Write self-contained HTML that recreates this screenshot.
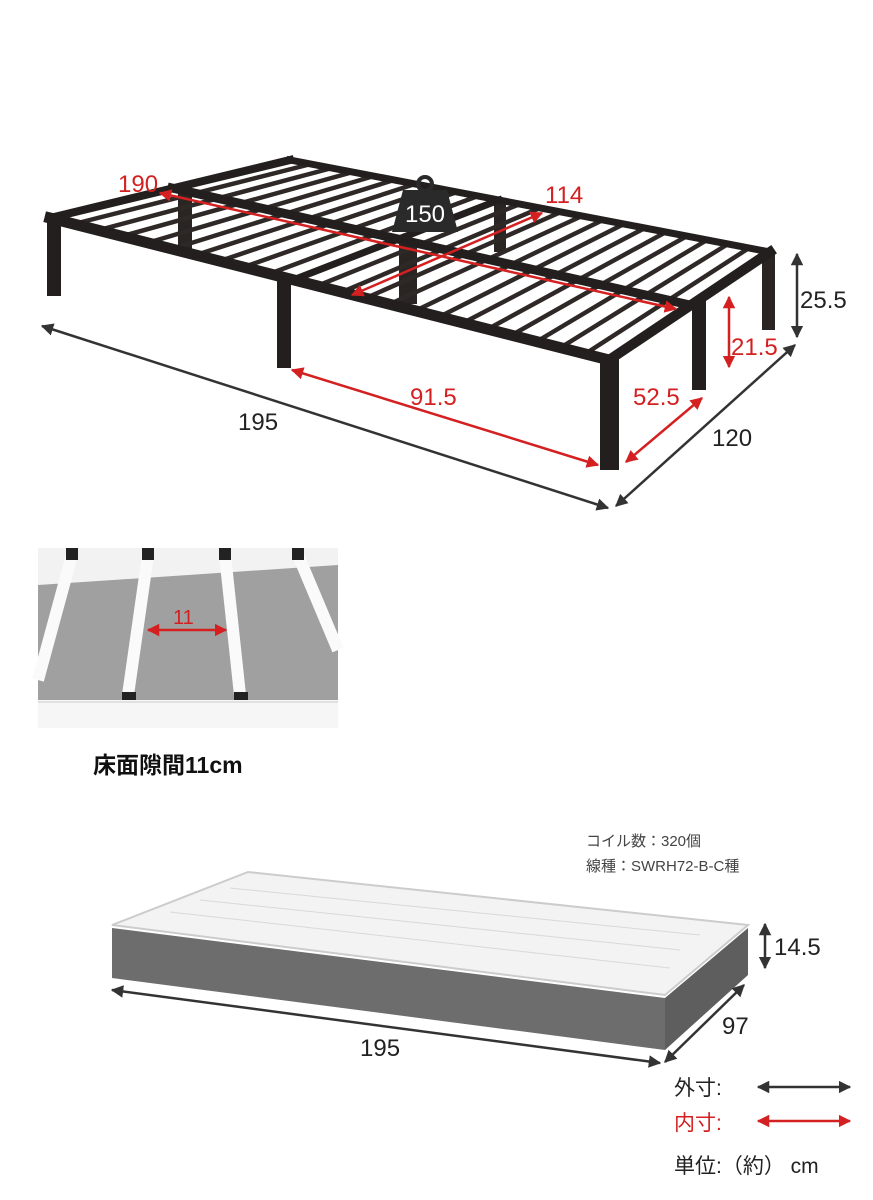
<!DOCTYPE html>
<html><head><meta charset="utf-8"><style>
html,body{margin:0;padding:0;background:#fff}
svg{display:block}
text{font-family:"Liberation Sans","Noto Sans CJK JP",sans-serif}
</style></head><body>
<svg width="873" height="1200" viewBox="0 0 873 1200" xmlns="http://www.w3.org/2000/svg">
<defs>
<marker id="ak" viewBox="0 0 10 10" refX="9" refY="5" markerWidth="5" markerHeight="5" orient="auto-start-reverse"><path d="M0,0L10,5L0,10z" fill="#333"/></marker>
<marker id="ar" viewBox="0 0 10 10" refX="9" refY="5" markerWidth="5" markerHeight="5" orient="auto-start-reverse"><path d="M0,0L10,5L0,10z" fill="#d42020"/></marker>
</defs>
<!-- inner legs -->
<g fill="#2a2523">
<rect x="178" y="188" width="14" height="66"/>
<rect x="399" y="240" width="18" height="64"/>
<rect x="494" y="202" width="12" height="50"/>
<rect x="762" y="252" width="13" height="78"/>
</g>
<!-- slats -->
<g stroke="#2e2927" stroke-width="4.5">
<line x1="74" y1="224" x2="311" y2="164"/>
<line x1="99" y1="230" x2="332" y2="168"/>
<line x1="123" y1="236" x2="353" y2="172"/>
<line x1="147" y1="243" x2="374" y2="176"/>
<line x1="172" y1="249" x2="394" y2="180"/>
<line x1="196" y1="255" x2="415" y2="184"/>
<line x1="220" y1="261" x2="436" y2="188"/>
<line x1="244" y1="267" x2="457" y2="192"/>
<line x1="269" y1="274" x2="478" y2="196"/>
<line x1="317" y1="286" x2="520" y2="204"/>
<line x1="342" y1="292" x2="540" y2="208"/>
<line x1="366" y1="298" x2="561" y2="212"/>
<line x1="390" y1="304" x2="582" y2="216"/>
<line x1="415" y1="311" x2="603" y2="220"/>
<line x1="439" y1="317" x2="624" y2="224"/>
<line x1="463" y1="323" x2="645" y2="228"/>
<line x1="488" y1="329" x2="666" y2="232"/>
<line x1="512" y1="335" x2="687" y2="236"/>
<line x1="536" y1="342" x2="707" y2="240"/>
<line x1="560" y1="348" x2="728" y2="244"/>
<line x1="585" y1="354" x2="749" y2="248"/>
</g>
<!-- rails -->
<g stroke="#231f1e" stroke-linecap="square">
<line x1="50" y1="218" x2="290" y2="160" stroke-width="8"/>
<line x1="290" y1="160" x2="770" y2="252" stroke-width="7"/>
<line x1="172" y1="188" x2="690" y2="305" stroke-width="9"/>
<line x1="293" y1="280" x2="499" y2="200" stroke-width="7"/>
<line x1="609" y1="360" x2="770" y2="252" stroke-width="10"/>
<line x1="50" y1="218" x2="609" y2="360" stroke-width="11"/>
</g>
<g fill="#231f1e">
<rect x="47" y="216" width="14" height="80"/>
<rect x="277" y="280" width="14" height="88"/>
<rect x="600" y="358" width="19" height="112"/>
<rect x="692" y="300" width="14" height="90"/>
</g>
<!-- weight -->
<circle cx="425" cy="184" r="7" fill="none" stroke="#2a2a2a" stroke-width="4"/>
<path d="M403,190 L447,190 L458,232 L392,232 Z" fill="#2a2a2a"/>
<text x="425" y="222" font-size="24" fill="#fff" text-anchor="middle">150</text>
<!-- red dims -->
<g stroke="#d42020" stroke-width="2.5" fill="none">
<line x1="160" y1="193" x2="676" y2="309" marker-start="url(#ar)" marker-end="url(#ar)"/>
<line x1="352" y1="295" x2="542" y2="213" marker-start="url(#ar)" marker-end="url(#ar)"/>
<line x1="292" y1="370" x2="598" y2="465" marker-start="url(#ar)" marker-end="url(#ar)"/>
<line x1="626" y1="462" x2="702" y2="398" marker-start="url(#ar)" marker-end="url(#ar)"/>
<line x1="729" y1="297" x2="729" y2="367" marker-start="url(#ar)" marker-end="url(#ar)"/>
</g>
<g fill="#d42020" font-size="24">
<text x="118" y="192">190</text><text x="545" y="203">114</text>
<text x="410" y="405">91.5</text><text x="633" y="405">52.5</text><text x="731" y="355">21.5</text>
</g>
<!-- black dims -->
<g stroke="#333" stroke-width="2.5">
<line x1="42" y1="326" x2="608" y2="508" marker-start="url(#ak)" marker-end="url(#ak)"/>
<line x1="616" y1="506" x2="795" y2="345" marker-start="url(#ak)" marker-end="url(#ak)"/>
<line x1="797" y1="254" x2="797" y2="337" marker-start="url(#ak)" marker-end="url(#ak)"/>
</g>
<g fill="#222" font-size="24">
<text x="238" y="430">195</text><text x="712" y="446">120</text><text x="800" y="308">25.5</text>
</g>
<!-- inset -->
<rect x="38" y="548" width="300" height="180" fill="#f2f2f2"/>
<path d="M38,585 L338,565 L338,700 L38,700 Z" fill="#a0a0a0"/>
<rect x="38" y="700" width="300" height="28" fill="#f6f6f6"/>
<line x1="38" y1="702" x2="338" y2="702" stroke="#ccc"/>
<g stroke="#fafafa" stroke-width="12">
<line x1="72" y1="555" x2="38" y2="680"/>
<line x1="148" y1="555" x2="128" y2="695"/>
<line x1="225" y1="555" x2="240" y2="695"/>
<line x1="298" y1="555" x2="338" y2="650"/>
</g>
<g fill="#222">
<rect x="66" y="548" width="12" height="12"/><rect x="142" y="548" width="12" height="12"/>
<rect x="219" y="548" width="12" height="12"/><rect x="292" y="548" width="12" height="12"/>
<rect x="122" y="692" width="14" height="8"/><rect x="234" y="692" width="14" height="8"/>
</g>
<line x1="148" y1="630" x2="226" y2="630" stroke="#d42020" stroke-width="2.5" marker-start="url(#ar)" marker-end="url(#ar)"/>
<text x="173" y="624" font-size="20" fill="#d42020">11</text>
<text x="93" y="773" font-size="23" font-weight="bold" fill="#111">床面隙間11cm</text>
<!-- mattress -->
<text x="586" y="846" font-size="15" fill="#444">コイル数：320個</text>
<text x="586" y="871" font-size="15" fill="#444">線種：SWRH72-B-C種</text>
<path d="M112,928 L665,998 L665,1050 L112,978 Z" fill="#6d6d6d"/>
<path d="M665,998 L748,928 L748,975 L665,1050 Z" fill="#5e5e5e"/>
<path d="M112,925 L248,872 L748,925 L665,995 Z" fill="#f3f3f3" stroke="#ccc" stroke-width="2"/>
<g stroke="#d9d9d9" stroke-width="1" fill="none">
<path d="M200,900 L680,950"/><path d="M170,912 L670,968"/><path d="M230,888 L700,935"/>
</g>
<g stroke="#333" stroke-width="2.5">
<line x1="112" y1="990" x2="660" y2="1063" marker-start="url(#ak)" marker-end="url(#ak)"/>
<line x1="665" y1="1062" x2="744" y2="985" marker-start="url(#ak)" marker-end="url(#ak)"/>
<line x1="765" y1="924" x2="765" y2="968" marker-start="url(#ak)" marker-end="url(#ak)"/>
</g>
<g fill="#222" font-size="24">
<text x="360" y="1056">195</text><text x="722" y="1034">97</text><text x="774" y="955">14.5</text>
</g>
<!-- legend -->
<text x="674" y="1095" font-size="21" fill="#222">外寸:</text>
<line x1="758" y1="1087" x2="850" y2="1087" stroke="#333" stroke-width="2.5" marker-start="url(#ak)" marker-end="url(#ak)"/>
<text x="674" y="1130" font-size="21" fill="#d42020">内寸:</text>
<line x1="758" y1="1121" x2="850" y2="1121" stroke="#d42020" stroke-width="2.5" marker-start="url(#ar)" marker-end="url(#ar)"/>
<text x="674" y="1173" font-size="21" fill="#222">単位:（約） cm</text>
</svg>
</body></html>
